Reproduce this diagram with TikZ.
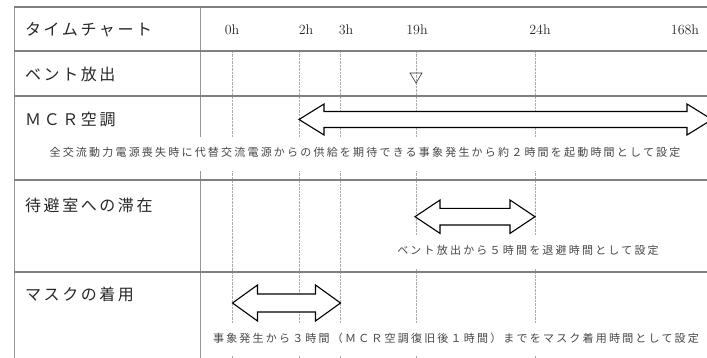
\documentclass[tikz,border=0pt]{standalone}
\usepackage{fontspec}
\newfontfamily\jplabel[LetterSpace=16]{Noto Sans CJK JP}
\newfontfamily\jpplain{Noto Sans CJK JP}
\newfontfamily\jpnote[LetterSpace=20]{Noto Sans CJK JP}
\definecolor{rulegray}{RGB}{128,128,128}
\definecolor{sepgray}{RGB}{150,150,150}
\definecolor{dashgray}{RGB}{170,170,170}
\definecolor{txt}{RGB}{40,40,40}
\definecolor{notetxt}{RGB}{70,70,70}
\tikzset{
  rowrule/.style={draw=rulegray, line width=1.5pt},
  colrule/.style={draw=sepgray, line width=0.8pt},
  timeline/.style={draw=dashgray, line width=0.5pt, dash pattern=on 2.5pt off 1pt},
  rowlabel/.style={anchor=west, inner sep=0pt, text=txt, font=\jplabel\fontsize{16}{18}\selectfont},
  hourlabel/.style={inner sep=0pt, text=txt, font=\fontsize{14}{16}\selectfont},
  note/.style={fill=white, inner xsep=6pt, inner ysep=11.5pt, text height=8pt, text depth=2.5pt, text=notetxt, font=\jpnote\fontsize{11}{13}\selectfont},
  blockarrow/.style={draw=black, fill=white, line width=1.1pt, line join=miter},
  ventmark/.style={draw=black!80, line width=0.6pt}
}
\newcommand\blockarr[5]{%
  \draw[blockarrow] (#1,#3) -- (#1+25,#3-#4) -- (#1+25,#3-#5) -- (#2-25,#3-#5) -- (#2-25,#3-#4) -- (#2,#3)
    -- (#2-25,#3+#4) -- (#2-25,#3+#5) -- (#1+25,#3+#5) -- (#1+25,#3+#4) -- cycle;}
\begin{document}
\begin{tikzpicture}[x=1pt,y=-1pt]
\useasboundingbox (0,0) rectangle (707,358);
\clip (0,0) rectangle (707,358);
\fill[white] (0,0) rectangle (707,358);
% time lines
\foreach \t in {232,299,340,416,535}{
  \draw[timeline] (\t,51) -- (\t,358);
}
% column rules
\draw[colrule] (14,7) -- (14,358);
\draw[colrule] (200,7) -- (200,358);
% row rules
\foreach \r in {7,51,96,180,272}{
  \draw[rowrule] (14,\r) -- (707,\r);
}
% header
\node[rowlabel] (hdr) at (25,30) {タイムチャート};
\node[hourlabel] (h0) at (232,30) {0h};
\node[hourlabel] (h2) at (306,30) {2h};
\node[hourlabel] (h3) at (346,30) {3h};
\node[hourlabel] (h19) at (417,30) {19h};
\node[hourlabel] (h24) at (540,30) {24h};
\node[hourlabel] (h168) at (685,30) {168h};
% row labels
\node[rowlabel] (vent) at (25,74) {ベント放出};
\node[rowlabel] (mcr) at (25,119) {{\jpplain Ｍ\hspace{2.6pt}Ｃ\hspace{2.6pt}Ｒ\hspace{2.6pt}}空調};
\node[rowlabel] (wait) at (25,206) {待避室への滞在};
\node[rowlabel] (mask) at (25,294) {マスクの着用};
% notes
\node[note] (mcrnote) at (365,154) {全交流動力電源喪失時に代替交流電源からの供給を期待できる事象発生から約２時間を起動時間として設定};
\node[note] (waitnote) at (528,252) {ベント放出から５時間を退避時間として設定};
\node[note] (masknote) at (456,339.5) {事象発生から３時間（ＭＣＲ空調復旧後１時間）までをマスク着用時間として設定};
% vent marker
\draw[ventmark] (410,73) -- (422,73) -- (416,83) -- cycle;
% arrows
\blockarr{299}{712}{119.5}{15.5}{8}
\blockarr{415}{535}{216.7}{16.7}{8.3}
\blockarr{232.5}{340.5}{303}{18}{9}
\end{tikzpicture}
\end{document}
